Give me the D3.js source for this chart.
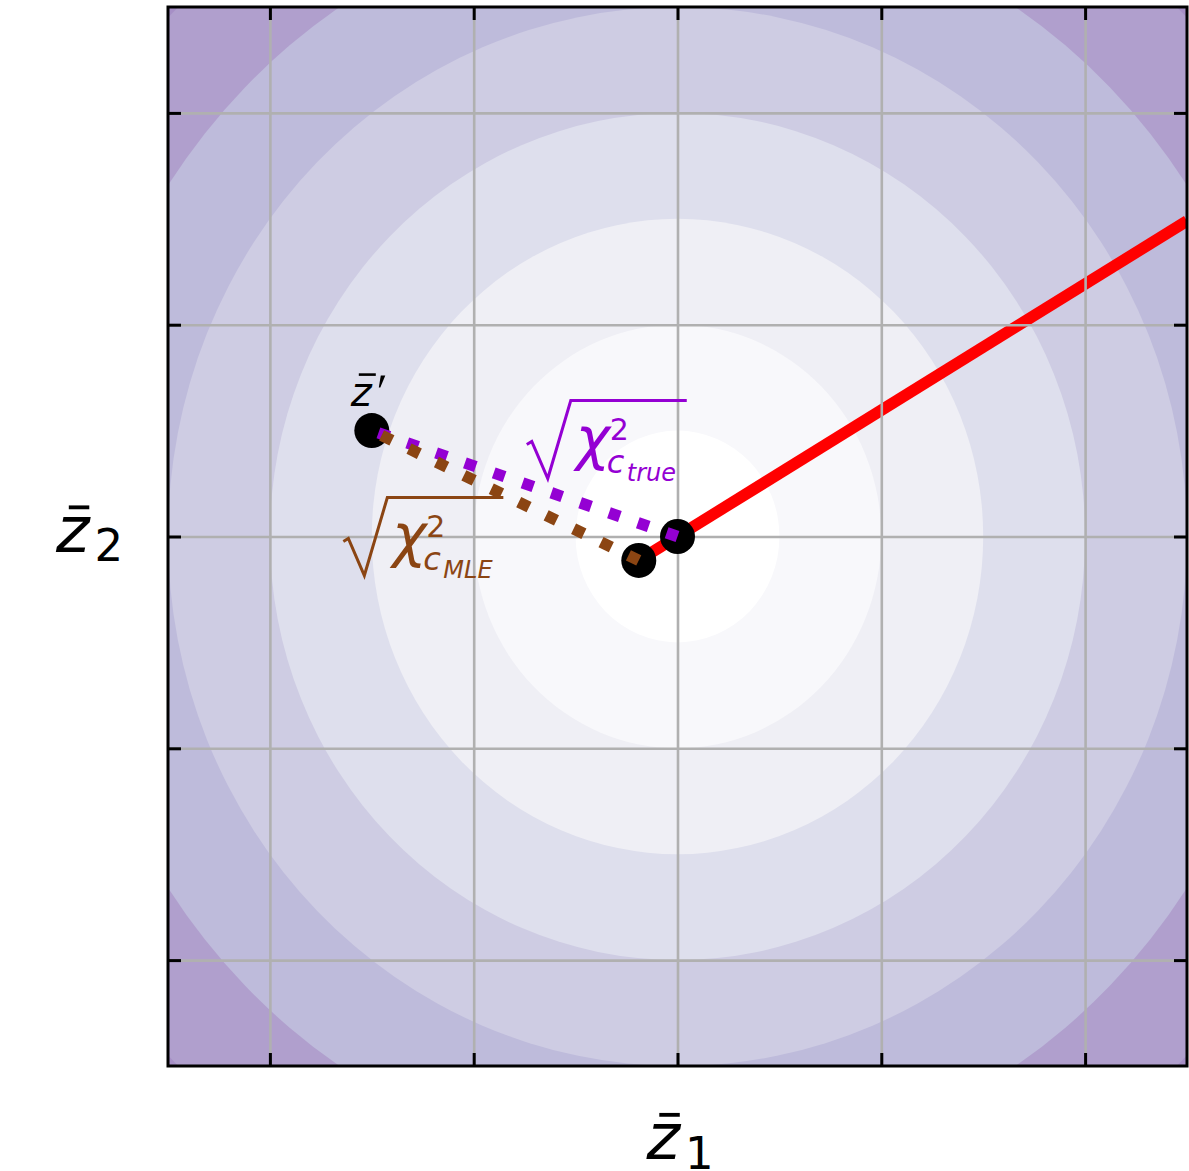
<!DOCTYPE html>
<html lang="en">
<head>
    <meta charset="UTF-8">
    <title>chi2 distances</title>
    <script src="https://cdn.jsdelivr.net/npm/d3@7"></script>
    <style>
        body { margin: 0; background: #fff; }
    </style>
</head>
<body>

<script>
    var width = 1189;
    var height = 1171;
    var margin = {left: 168, top: 7, right: 2, bottom: 105};

    // data
    var xDomain = [-2.5, 2.5];
    var yDomain = [-2.5, 2.5];
    var tickValues = [-2, -1, 0, 1, 2];
    var levels = [0.5, 1, 1.5, 2, 2.5, 3, 3.5];      // contour radii
    var zPrime = [-1.5, 0.5];
    var zTrue = [0, 0];
    var zMLE = [-0.19, -0.113];
    var redLine = [zMLE, [2.5, 1.49]];
    var trueLabelAt = [-0.72, 0.642];                  // left end of the sqrt sign, at bar height
    var mleLabelAt = [-1.62, 0.184];

    // styles
    var bandColors = ["#ffffff", "#f8f8fb", "#efeff5", "#dedfed", "#cecce3", "#bebbdb", "#b09fcd", "#a68fc6"];
    var purple = "#9400d3";
    var brown = "#8b4513";

    var svg = d3.select("body")
                .append("svg")
                .attr("width", width)
                .attr("height", height);

    var x = d3.scaleLinear().domain(xDomain).range([margin.left, width - margin.right]);
    var y = d3.scaleLinear().domain(yDomain).range([height - margin.bottom, margin.top]);
    var pw = x.range()[1] - x.range()[0];
    var ph = y.range()[0] - y.range()[1];

    svg.append("clipPath").attr("id", "plot")
        .append("rect")
        .attr("x", margin.left).attr("y", margin.top)
        .attr("width", pw).attr("height", ph);

    var plot = svg.append("g").attr("clip-path", "url(#plot)");

    // background = outermost band
    plot.append("rect")
        .attr("x", margin.left).attr("y", margin.top)
        .attr("width", pw).attr("height", ph)
        .attr("fill", bandColors[levels.length]);

    // filled contours, biggest first
    plot.selectAll("ellipse")
        .data(levels.slice().reverse())
        .enter()
        .append("ellipse")
        .attr("cx", x(zTrue[0]))
        .attr("cy", y(zTrue[1]))
        .attr("rx", function (r) { return x(r) - x(0); })
        .attr("ry", function (r) { return y(0) - y(r); })
        .attr("fill", function (r) { return bandColors[levels.indexOf(r)]; });

    // grid
    var grid = svg.append("g");
    grid.append("g")
        .attr("transform", "translate(0," + y.range()[0] + ")")
        .call(d3.axisBottom(x).tickValues(tickValues).tickSize(-ph).tickFormat(""));
    grid.append("g")
        .attr("transform", "translate(" + margin.left + ",0)")
        .call(d3.axisLeft(y).tickValues(tickValues).tickSize(-pw).tickFormat(""));
    grid.selectAll(".domain").remove();
    grid.selectAll("line").attr("stroke", "#b0b0b0").attr("stroke-width", 2.6);

    // inward ticks on all four sides
    var ticks = svg.append("g");
    ticks.append("g").attr("transform", "translate(0," + y.range()[0] + ")")
        .call(d3.axisBottom(x).tickValues(tickValues).tickSize(-13).tickFormat(""));
    ticks.append("g").attr("transform", "translate(0," + y.range()[1] + ")")
        .call(d3.axisTop(x).tickValues(tickValues).tickSize(-13).tickFormat(""));
    ticks.append("g").attr("transform", "translate(" + x.range()[0] + ",0)")
        .call(d3.axisLeft(y).tickValues(tickValues).tickSize(-13).tickFormat(""));
    ticks.append("g").attr("transform", "translate(" + x.range()[1] + ",0)")
        .call(d3.axisRight(y).tickValues(tickValues).tickSize(-13).tickFormat(""));
    ticks.selectAll(".domain").remove();
    ticks.selectAll("line").attr("stroke", "#000").attr("stroke-width", 3);

    var line = d3.line()
        .x(function (d) { return x(d[0]); })
        .y(function (d) { return y(d[1]); });

    plot.append("path")
        .attr("d", line(redLine))
        .attr("stroke", "#ff0000")
        .attr("stroke-width", 11.5)
        .attr("fill", "none");

    svg.selectAll("circle")
        .data([zPrime, zTrue, zMLE])
        .enter()
        .append("circle")
        .attr("cx", function (d) { return x(d[0]); })
        .attr("cy", function (d) { return y(d[1]); })
        .attr("r", 17.5)
        .attr("fill", "#000");

    // dotted distances
    svg.append("path")
        .attr("d", line([zTrue, zPrime]))
        .attr("stroke", purple)
        .attr("stroke-width", 11.5)
        .attr("stroke-dasharray", "11.5,19")
        .attr("fill", "none");
    svg.append("path")
        .attr("d", line([zMLE, zPrime]))
        .attr("stroke", brown)
        .attr("stroke-width", 11.5)
        .attr("stroke-dasharray", "11.5,19")
        .attr("fill", "none");

    var font = "DejaVu Sans";

    // z-bar with subscript
    function zbar(g, fs, sub, subFs) {
        g.append("text")
            .attr("font-family", font).attr("font-style", "italic")
            .attr("font-size", fs)
            .text("z");
        g.append("line")
            .attr("x1", fs * 0.2).attr("x2", fs * 0.52)
            .attr("y1", -fs * 0.69).attr("y2", -fs * 0.69)
            .attr("stroke", "#000").attr("stroke-width", fs * 0.06);
        g.append("text")
            .attr("font-family", font)
            .attr("font-size", subFs)
            .attr("x", fs * 0.6).attr("y", fs * 0.15)
            .text(sub);
    }

    var xl = svg.append("g").attr("transform", "translate(" + (x(0) - 31) + "," + (y.range()[0] + 93) + ")");
    zbar(xl, 64, "1", 45);
    var yl = svg.append("g").attr("transform", "translate(56," + (y(0) + 15) + ")");
    zbar(yl, 64, "2", 45);

    // z-bar prime label above z'
    var zp = svg.append("g").attr("transform", "translate(" + (x(zPrime[0]) - 21) + "," + (y(zPrime[1]) - 25) + ")");
    zp.append("text")
        .attr("font-family", font).attr("font-style", "italic")
        .attr("font-size", 40)
        .text("z");
    zp.append("line")
        .attr("x1", 8).attr("x2", 25)
        .attr("y1", -31).attr("y2", -31)
        .attr("stroke", "#000").attr("stroke-width", 2.6);
    zp.append("path")
        .attr("d", "M30,-30L34.5,-30L29.5,-18L28,-18Z")
        .attr("fill", "#000");

    // sqrt(chi^2_{c_sub}) label
    function chiLabel(at, sub, color) {
        var g = svg.append("g")
            .attr("transform", "translate(" + x(at[0]) + "," + y(at[1]) + ")")
            .attr("fill", color);
        g.append("path")
            .attr("d", "M-4,44L1,41L17,78L40,0H156")
            .attr("stroke", color).attr("stroke-width", 3)
            .attr("fill", "none");
        g.append("text").attr("font-family", font).attr("font-style", "italic")
            .attr("font-size", 58).attr("x", 45).attr("y", 58).text("\u03c7");
        g.append("text").attr("font-family", font)
            .attr("font-size", 30).attr("x", 79).attr("y", 39).text("2");
        g.append("text").attr("font-family", font).attr("font-style", "italic")
            .attr("font-size", 32).attr("x", 76).attr("y", 72).text("c");
        g.append("text").attr("font-family", font).attr("font-style", "italic")
            .attr("font-size", 24).attr("x", 96).attr("y", 80).text(sub);
    }
    chiLabel(trueLabelAt, "true", purple);
    chiLabel(mleLabelAt, "MLE", brown);

    // frame
    svg.append("rect")
        .attr("x", margin.left).attr("y", margin.top)
        .attr("width", pw).attr("height", ph)
        .attr("fill", "none")
        .attr("stroke", "#000")
        .attr("stroke-width", 3);
</script>
</body>
</html>
